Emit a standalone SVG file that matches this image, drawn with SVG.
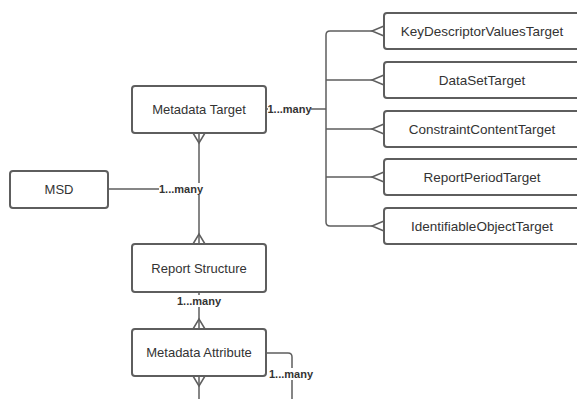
<svg xmlns="http://www.w3.org/2000/svg" width="577" height="399" viewBox="0 0 577 399">
<style>
.box{fill:#fff;stroke:#5e5e5e;stroke-width:2}
.t{font-family:"Liberation Sans",Arial,sans-serif;font-size:13px;fill:#333;text-anchor:middle;dominant-baseline:central}
.tt{font-size:13.5px}
.lbl{font-family:"Liberation Sans",Arial,sans-serif;font-size:11px;font-weight:bold;fill:#333;text-anchor:middle;dominant-baseline:central}
.ln{fill:none;stroke:#5e5e5e;stroke-width:1.5}
.bg{fill:#fff}
</style>
<rect width="577" height="399" fill="#fff"/>
<g id="connectors">
  <path class="ln" d="M266,109 H326"/>
  <path class="ln" d="M372,31 H330 Q326,31 326,35 V222 Q326,226 330,226 H372"/>
  <path class="ln" d="M326,80 H372 M326,129 H372 M326,177 H372"/>
  <path class="ln" d="M384,26 L372,31 L384,36 M384,75 L372,80 L384,85 M384,124 L372,129 L384,134 M384,172 L372,177 L384,182 M384,221 L372,226 L384,231"/>
  <path class="ln" d="M199,133 V244"/>
  <path class="ln" d="M193,133 L199,143 L205,133 M193,244 L199,234 L205,244"/>
  <path class="ln" d="M108,189 H199"/>
  <path class="ln" d="M199,292 V329"/>
  <path class="ln" d="M193,329 L199,319 L205,329"/>
  <path class="ln" d="M199,376 V399"/>
  <path class="ln" d="M193,376 L199,386 L205,376"/>
  <path class="ln" d="M266,353 H288 Q292,353 292,357 V399"/>
  <rect class="bg" x="268" y="103" width="43" height="12"/>
  <text class="lbl" x="289.5" y="109">1...many</text>
  <rect class="bg" x="159" y="183" width="45" height="12"/>
  <text class="lbl" x="181" y="189">1...many</text>
  <rect class="bg" x="177" y="295" width="44" height="12"/>
  <text class="lbl" x="199" y="301">1...many</text>
  <rect class="bg" x="270" y="368" width="43" height="12"/>
  <text class="lbl" x="291" y="374">1...many</text>
</g>
<g id="metadata-target">
  <rect class="box" x="132" y="86" width="134" height="47" rx="3"/>
  <text class="t" x="199" y="109.5">Metadata Target</text>
</g>
<g id="msd">
  <rect class="box" x="10" y="171" width="98" height="37" rx="3"/>
  <text class="t" x="59" y="189.5">MSD</text>
</g>
<g id="report-structure">
  <rect class="box" x="132" y="244" width="134" height="48" rx="3"/>
  <text class="t" x="199" y="268">Report Structure</text>
</g>
<g id="metadata-attribute">
  <rect class="box" x="132" y="329" width="134" height="47" rx="3"/>
  <text class="t" x="199" y="352.5">Metadata Attribute</text>
</g>
<g id="key-descriptor-values-target">
  <rect class="box" x="384" y="13" width="196" height="36" rx="3"/>
  <text class="t tt" x="482" y="31">KeyDescriptorValuesTarget</text>
</g>
<g id="data-set-target">
  <rect class="box" x="384" y="62" width="196" height="36" rx="3"/>
  <text class="t tt" x="482" y="80">DataSetTarget</text>
</g>
<g id="constraint-content-target">
  <rect class="box" x="384" y="111" width="196" height="36" rx="3"/>
  <text class="t tt" x="482" y="129">ConstraintContentTarget</text>
</g>
<g id="report-period-target">
  <rect class="box" x="384" y="159" width="196" height="36" rx="3"/>
  <text class="t tt" x="482" y="177">ReportPeriodTarget</text>
</g>
<g id="identifiable-object-target">
  <rect class="box" x="384" y="208" width="196" height="36" rx="3"/>
  <text class="t tt" x="482" y="226">IdentifiableObjectTarget</text>
</g>
</svg>
